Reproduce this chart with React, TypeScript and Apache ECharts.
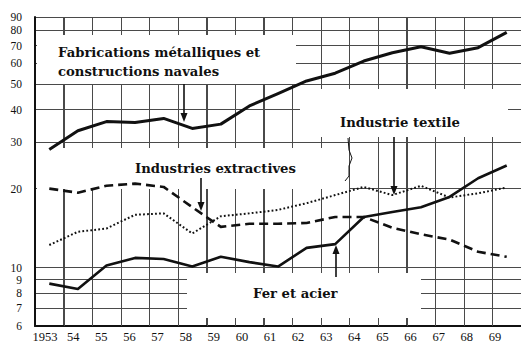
import { useEffect, useRef } from "react";
import * as echarts from "echarts";

// Years on the horizontal axis
const years = ["1953", "54", "55", "56", "57", "58", "59", "60", "61", "62", "63", "64", "65", "66", "67", "68", "69"];

// Logarithmic scale ticks
const yTicks = [6, 7, 8, 9, 10, 20, 30, 40, 50, 60, 70, 80, 90];

// Production indices by branch
const fabrications = [28.2, 33.2, 36.0, 35.7, 37.0, 33.9, 35.2, 41.3, 46.0, 51.4, 55.0, 61.2, 65.8, 69.4, 65.5, 68.8, 78.7];
const textile = [12.2, 13.7, 14.1, 15.9, 16.1, 13.5, 15.7, 16.1, 16.6, 17.6, 18.9, 20.3, 18.9, 20.5, 18.5, 19.2, 20.2];
const extractives = [20.0, 19.3, 20.5, 20.9, 20.3, 17.0, 14.3, 14.7, 14.7, 14.8, 15.6, 15.6, 14.2, 13.4, 12.8, 11.5, 11.0];
const ferAcier = [8.7, 8.3, 10.2, 10.9, 10.8, 10.1, 11.0, 10.5, 10.1, 11.9, 12.3, 15.6, 16.3, 17.0, 18.6, 21.9, 24.5];

const INK = "#111";
const GRID = "#4a4a4a";
const LABEL_FONT = 'bold 13.2px "DejaVu Serif"';
const PLOT = { left: 35, right: 0, top: 17, bottom: 17, width: 521, height: 343 };

// White panels that hold the captions
const panel = (x: number, y: number, w: number, h: number) => ({
  type: "rect",
  z: 1,
  shape: { x, y, width: w, height: h },
  style: { fill: "#fff" },
});

const caption = (x: number, y: number, text: string) => ({
  type: "text",
  z: 6,
  x,
  y,
  style: { text, font: LABEL_FONT, fill: INK, textAlign: "left", textVerticalAlign: "middle" },
});

// Vertical pointer with a head at (x, tipY)
const arrow = (x: number, fromY: number, tipY: number) => {
  const dir = tipY > fromY ? 1 : -1;
  const baseY = tipY - dir * 9;
  return [
    {
      type: "line",
      z: 6,
      shape: { x1: x, y1: fromY, x2: x, y2: baseY },
      style: { stroke: INK, lineWidth: 1.6 },
    },
    {
      type: "polygon",
      z: 6,
      shape: { points: [[x, tipY], [x - 3.5, baseY], [x + 3.5, baseY]] },
      style: { fill: INK },
    },
  ];
};

const overlays = [
  panel(37, 35, 259, 49),
  panel(37, 148, 312, 41),
  panel(300, 89, 208, 48),
  panel(187, 273, 234, 45),
  {
    type: "polyline",
    z: 6,
    shape: { points: [[348, 138], [349, 150], [352, 158], [349, 166], [349, 176], [345, 181]] },
    style: { stroke: INK, lineWidth: 1, fill: null },
  },
  caption(58, 52, "Fabrications métalliques et"),
  caption(58, 71, "constructions navales"),
  caption(135, 168, "Industries extractives"),
  caption(340, 122, "Industrie textile"),
  caption(253, 293, "Fer et acier"),
  ...arrow(184, 84, 122),
  ...arrow(201, 178, 211),
  ...arrow(394, 137, 195),
  ...arrow(336, 277, 245),
];

export default function App() {
  const ref = useRef<HTMLDivElement>(null);

  useEffect(() => {
    if (!ref.current) return;
    const chart = echarts.init(ref.current, null, { renderer: "svg" });

    const lineSeries = (data: number[], width: number, type: any) => ({
      type: "line",
      data,
      xAxisIndex: 0,
      yAxisIndex: 0,
      symbol: "none",
      z: 3,
      lineStyle: { color: INK, width, type, cap: "butt", join: "round" },
      emphasis: { disabled: true },
    });

    chart.setOption({
      animation: false,
      backgroundColor: "#fff",
      grid: [
        { left: PLOT.left, right: PLOT.right, top: PLOT.top, bottom: PLOT.bottom },
        { left: 31, right: 12, top: PLOT.top, bottom: PLOT.bottom },
      ],
      xAxis: [
        {
          // category axis carrying the series
          type: "category",
          gridIndex: 0,
          data: years,
          boundaryGap: true,
          axisLine: { show: true, onZero: false, lineStyle: { color: INK, width: 2 } },
          axisTick: { show: false },
          axisLabel: { show: false },
          splitLine: { show: true, interval: 0, lineStyle: { color: GRID, width: 1 } },
        },
        {
          // year labels
          type: "category",
          gridIndex: 1,
          data: years,
          boundaryGap: true,
          axisLine: { show: false },
          axisTick: { show: false },
          splitLine: { show: false },
          axisLabel: {
            interval: 0,
            margin: 7,
            color: INK,
            fontSize: 12.5,
            fontFamily: "Liberation Serif",
          },
        },
      ],
      yAxis: [
        {
          type: "log",
          gridIndex: 0,
          logBase: 10,
          min: 6,
          max: 90.01,
          axisLine: { show: true, lineStyle: { color: INK, width: 2 } },
          axisTick: { show: false, customValues: yTicks },
          axisLabel: {
            customValues: yTicks,
            margin: 13,
            color: INK,
            fontSize: 11.5,
            fontFamily: "Liberation Serif",
          },
          splitLine: { show: true, lineStyle: { color: GRID, width: 1 } },
        },
        { type: "value", gridIndex: 1, show: false },
      ],
      graphic: overlays,
      series: [
        lineSeries(fabrications, 3, "solid"),
        lineSeries(textile, 2, [1.8, 2.2]),
        lineSeries(extractives, 2.6, [9, 5]),
        lineSeries(ferAcier, 2.6, "solid"),
      ],
    });

    // Vertical rules halfway between consecutive years
    const band = (PLOT.width - PLOT.left - PLOT.right) / years.length;
    const centre = (i: number) => {
      const v = Number(chart.convertToPixel({ xAxisIndex: 0 }, years[i]));
      return isFinite(v) ? v : PLOT.left + band * (i + 0.5);
    };
    let top = Number(chart.convertToPixel({ yAxisIndex: 0 }, 90));
    let bottom = Number(chart.convertToPixel({ yAxisIndex: 0 }, 6));
    if (!isFinite(top)) top = PLOT.top;
    if (!isFinite(bottom)) bottom = PLOT.height - PLOT.bottom;
    const rules = years.slice(1).map((_, i) => {
      const x = Math.round((centre(i) + centre(i + 1)) / 2) + 0.5;
      return {
        type: "polyline",
        z: 0.8,
        shape: { points: [[x, top], [x, bottom]] },
        style: { stroke: GRID, lineWidth: 1, fill: null },
      };
    });
    chart.setOption({ graphic: [...overlays, ...rules] });

    return () => chart.dispose();
  }, []);

  return (
    <div
      ref={ref}
      style={{ position: "fixed", left: 0, top: 0, width: 521, height: 343, background: "#fff" }}
    />
  );
}
